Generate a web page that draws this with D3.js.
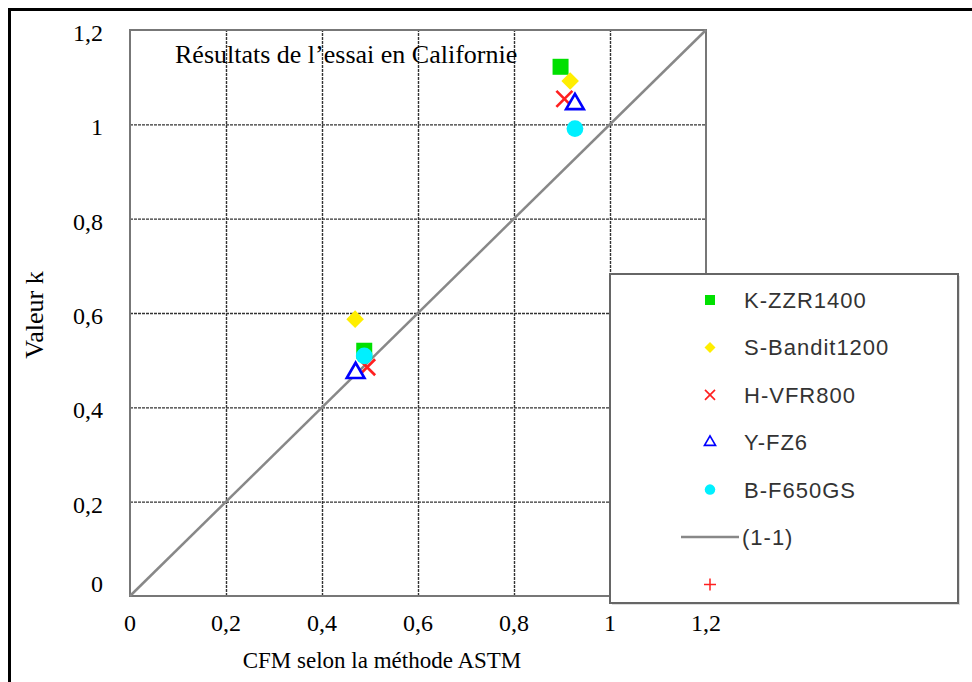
<!DOCTYPE html>
<html lang="fr">
<head>
<meta charset="UTF-8">
<title>Résultats de l'essai en Californie</title>
<script src="https://d3js.org/d3.v7.min.js"></script>
<style>
    body { margin: 0; background: #fff; }
    .serif { font-family: "Liberation Serif", "Times New Roman", serif; fill: #000; }
    .leg { font-family: "Liberation Sans", Arial, sans-serif; fill: #333; letter-spacing: 1px; }
</style>
</head>
<body>
<div class="content"></div>
<script>
// séries (motos) et valeurs
const series = ["K-ZZR1400", "S-Bandit1200", "H-VFR800", "Y-FZ6", "B-F650GS"];
const cfmAstm = [[0.897, 0.488], [0.917, 0.469], [0.905, 0.494], [0.927, 0.470], [0.927, 0.488]];
const kValue = [[1.122, 0.520], [1.092, 0.587], [1.054, 0.485], [1.043, 0.473], [0.991, 0.509]];
const xTicks = [0, 0.2, 0.4, 0.6, 0.8, 1, 1.2];
const yTicks = [0, 0.2, 0.4, 0.6, 0.8, 1, 1.2];
const fmt = d => String(d).replace(".", ",");

var p = { width: 972, height: 682, left: 130, right: 706, top: 30, bottom: 596 };

var svg = d3.select(".content").append("svg")
    .attr("width", p.width)
    .attr("height", p.height);

var x = d3.scaleLinear().domain([0, 1.2]).range([p.left, p.right]);
var y = d3.scaleLinear().domain([0, 1.2]).range([p.bottom, p.top]);

// cadre noir extérieur
svg.append("path")
    .attr("d", "M9.5,682 V9.5 H972")
    .attr("fill", "none").attr("stroke", "#000").attr("stroke-width", 3);

// grille pointillée
svg.append("g").attr("transform", "translate(0," + p.bottom + ")")
    .call(d3.axisBottom(x).tickValues(xTicks.slice(1, -1)).tickSize(-(p.bottom - p.top)).tickFormat(""))
    .call(g => g.select(".domain").remove())
    .selectAll("line").attr("stroke", "#333").attr("stroke-width", 1.4).attr("stroke-dasharray", "3,1");
svg.append("g").attr("transform", "translate(" + p.left + ",0)")
    .call(d3.axisLeft(y).tickValues(yTicks.slice(1, -1)).tickSize(-(p.right - p.left)).tickFormat(""))
    .call(g => g.select(".domain").remove())
    .selectAll("line").attr("stroke", "#333").attr("stroke-width", 1.4).attr("stroke-dasharray", "3,1");

// bordure de la zone de tracé
svg.append("rect")
    .attr("x", p.left).attr("y", p.top)
    .attr("width", p.right - p.left).attr("height", p.bottom - p.top)
    .attr("fill", "none").attr("stroke", "#777").attr("stroke-width", 2);

// droite (1-1)
svg.append("line")
    .attr("x1", x(0)).attr("y1", y(0)).attr("x2", x(1.2)).attr("y2", y(1.2))
    .attr("stroke", "#888").attr("stroke-width", 2.5);

// symboles
function marker(g, i, s) {
    if (i === 0) {
        g.append("rect").attr("x", -s).attr("y", -s).attr("width", 2 * s).attr("height", 2 * s)
            .attr("fill", "#00e000");
    } else if (i === 1) {
        g.append("path").attr("d", `M0,${-s * 1.1}L${s * 1.1},0L0,${s * 1.1}L${-s * 1.1},0Z`)
            .attr("fill", "#ffee00");
    } else if (i === 2) {
        g.append("path").attr("d", `M${-s},${-s}L${s},${s}M${s},${-s}L${-s},${s}`)
            .attr("stroke", "#ff2020").attr("stroke-width", s / 3).attr("fill", "none");
    } else if (i === 3) {
        var h = s * 1.9;
        g.append("path").attr("d", `M0,${-h * 2 / 3}L${h * 0.58},${h / 3}L${-h * 0.58},${h / 3}Z`)
            .attr("stroke", "#0000ff").attr("stroke-width", s / 3).attr("fill", "#fff");
    } else if (i === 4) {
        g.append("circle").attr("r", s * 1.05).attr("fill", "#00f0ff");
    }
}

series.forEach(function(name, i) {
    cfmAstm[i].forEach(function(cx, j) {
        var g = svg.append("g").attr("transform", "translate(" + x(cx) + "," + y(kValue[i][j]) + ")");
        marker(g, i, 8);
    });
});

// étiquettes des axes
svg.append("g").selectAll("text").data(xTicks).join("text")
    .attr("class", "serif").attr("x", d => x(d)).attr("y", 631)
    .attr("text-anchor", "middle").style("font-size", "24px").text(fmt);
svg.append("g").selectAll("text").data(yTicks).join("text")
    .attr("class", "serif").attr("x", 103).attr("y", d => d === 0 ? y(d) - 4 : y(d) + 11)
    .attr("text-anchor", "end").style("font-size", "24px").text(fmt);

svg.append("text").attr("class", "serif")
    .attr("x", 382).attr("y", 668).attr("text-anchor", "middle").style("font-size", "23px")
    .text("CFM selon la méthode ASTM");
svg.append("text").attr("class", "serif")
    .attr("transform", "translate(43,315) rotate(-90)").attr("text-anchor", "middle").style("font-size", "26px")
    .text("Valeur k");
svg.append("text").attr("class", "serif")
    .attr("x", 175).attr("y", 63).style("font-size", "26px")
    .text("Résultats de l’essai en Californie");

// légende
var lg = { x: 610, y: 274, w: 348, h: 329, row: 47.4 };
svg.append("rect").attr("x", lg.x + 2).attr("y", lg.y + 2).attr("width", lg.w).attr("height", lg.h)
    .attr("fill", "#ddd");
svg.append("rect").attr("x", lg.x).attr("y", lg.y).attr("width", lg.w).attr("height", lg.h)
    .attr("fill", "#fff").attr("stroke", "#666").attr("stroke-width", 2);

series.forEach(function(name, i) {
    var cy = lg.y + 26 + i * lg.row;
    var g = svg.append("g").attr("transform", "translate(710," + cy + ")");
    marker(g, i, 5);
    svg.append("text").attr("class", "leg").attr("x", 744).attr("y", cy + 8)
        .style("font-size", "22px").text(name);
});
var ly = lg.y + 26 + 5 * lg.row;
svg.append("line").attr("x1", 681).attr("x2", 739).attr("y1", ly).attr("y2", ly)
    .attr("stroke", "#888").attr("stroke-width", 2.5);
svg.append("text").attr("class", "leg").attr("x", 742).attr("y", ly + 8)
    .style("font-size", "22px").text("(1-1)");
var py = lg.y + 26 + 6 * lg.row;
svg.append("path").attr("d", `M704,${py}H716M710,${py - 6}V${py + 6}`)
    .attr("stroke", "#ff2020").attr("stroke-width", 1.5);
</script>
</body>
</html>
